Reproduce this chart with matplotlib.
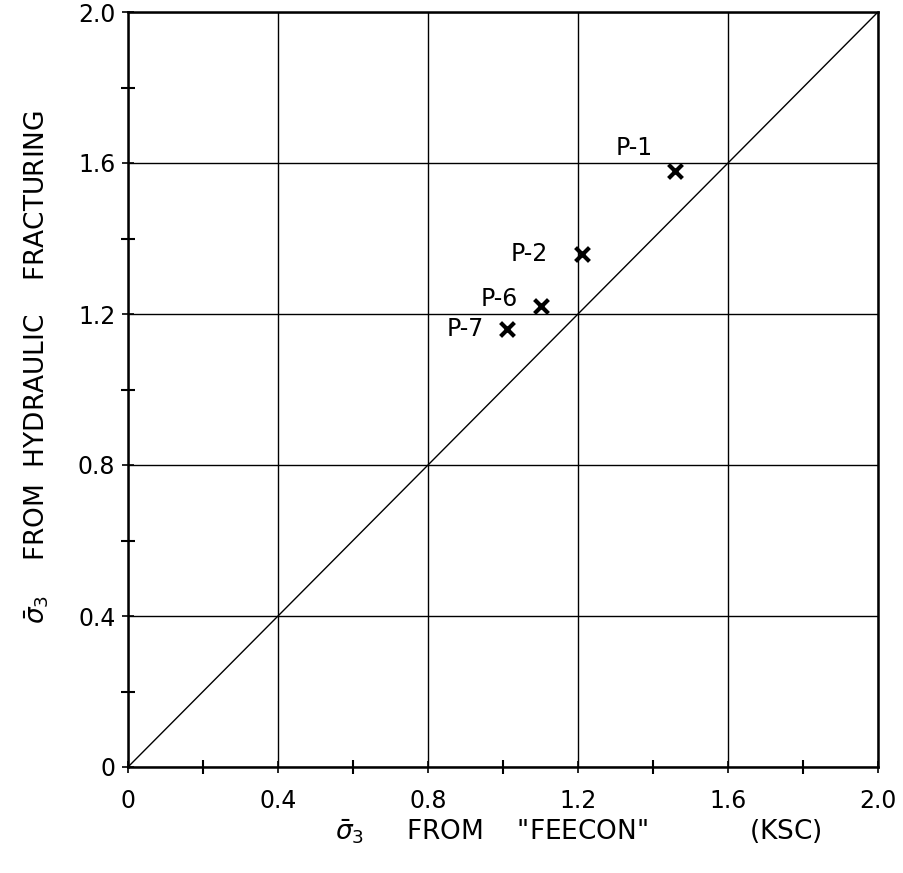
import matplotlib
matplotlib.use("Agg")
import matplotlib.pyplot as plt
import numpy as np

# data (KSC)
point_names = ["P-1", "P-2", "P-6", "P-7"]
feecon = [1.46, 1.21, 1.10, 1.01]
hydraulic = [1.58, 1.36, 1.22, 1.16]
label_dx = [-0.11, -0.14, -0.11, -0.11]
label_dy = [0.06, 0.0, 0.02, 0.0]

major = [0, 0.4, 0.8, 1.2, 1.6, 2.0]
major_labels = ["0", "0.4", "0.8", "1.2", "1.6", "2.0"]
minor = [0.2, 0.6, 1.0, 1.4, 1.8]

plt.rcParams['font.family'] = ['DejaVu Sans']

fig = plt.figure(figsize=(9.04, 8.73), dpi=100)
ax = fig.add_axes([128 / 904, 106 / 873, 750 / 904, 755 / 873])

ax.set_xlim(0, 2.0)
ax.set_ylim(0, 2.0)

# 1:1 line
ax.plot([0, 2.0], [0, 2.0], color='black', linewidth=1.0)

# points marked with x
ax.scatter(feecon, hydraulic, marker='x', s=100, color='black', linewidths=3, zorder=3)
for name, x, y, dx, dy in zip(point_names, feecon, hydraulic, label_dx, label_dy):
    ax.text(x + dx, y + dy, name, fontsize=17, ha='center', va='center')

ax.set_xticks(major)
ax.set_yticks(major)
ax.set_xticklabels(major_labels, fontsize=17)
ax.set_yticklabels(major_labels, fontsize=17)
ax.set_xticks(minor, minor=True)
ax.set_yticks(minor, minor=True)
ax.tick_params(which='major', direction='inout', length=8, width=1.2, pad=12)
ax.tick_params(which='minor', direction='inout', length=10, width=1.5)
ax.tick_params(axis='y', which='major', pad=5)

ax.grid(True, which='major', color='black', linewidth=1.0)
for s in ax.spines.values():
    s.set_linewidth(1.8)

fig.text(0.04, 0.58, r"$\bar{\sigma}_3$    FROM  HYDRAULIC    FRACTURING",
         rotation=90, fontsize=19, ha='center', va='center')
fig.text(0.64, 0.048, r'$\bar{\sigma}_3$     FROM    "FEECON"            (KSC)',
         fontsize=19, ha='center', va='center')

fig.savefig("out.png", dpi=100)
